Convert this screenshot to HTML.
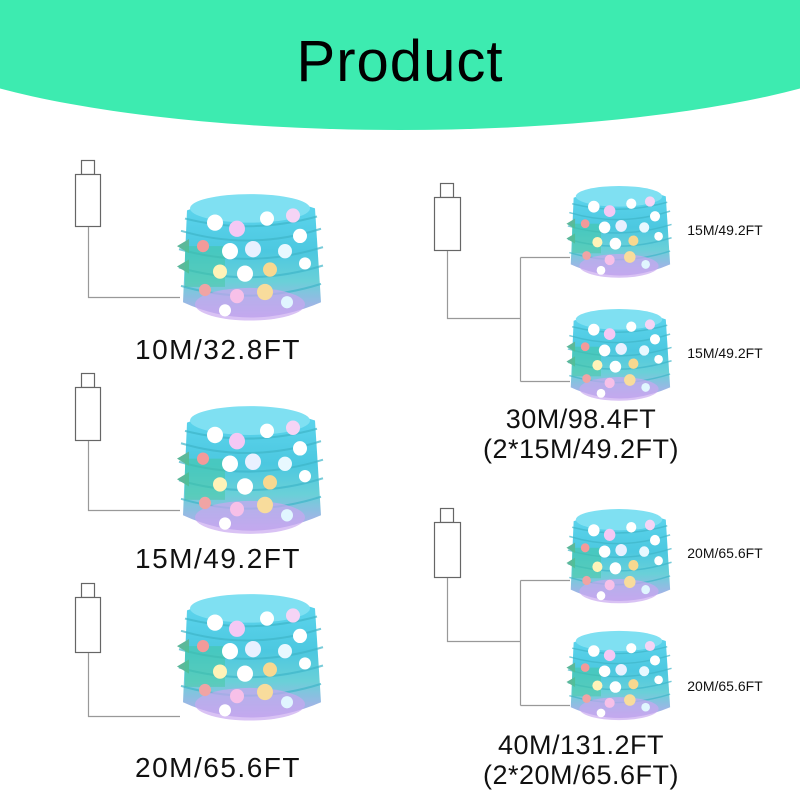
<!DOCTYPE html>
<html><head><meta charset="utf-8"><style>
html,body{margin:0;padding:0;background:#fff;width:800px;height:800px;overflow:hidden;font-family:"Liberation Sans",sans-serif}
.t{position:absolute;color:#111;white-space:nowrap;transform:translateX(-50%)}
</style></head><body>
<svg width="800" height="800" style="position:absolute;left:0;top:0">
<defs>
<linearGradient id="cg" x1="0" y1="0" x2="0" y2="1">
<stop offset="0" stop-color="#5fd6ef"/><stop offset="0.45" stop-color="#4cc8e0"/><stop offset="0.7" stop-color="#6ad0d8"/><stop offset="1" stop-color="#b8a8ec"/>
</linearGradient>
<g id="coil">
<path d="M12,20 Q75,-4 140,18 L146,110 Q75,140 8,110 Z" fill="url(#cg)"/>
<ellipse cx="75" cy="18" rx="60" ry="14" fill="#7fe0f2"/>
<g stroke="#3fb6c9" stroke-width="2" fill="none" opacity="0.7">
<path d="M6,40 Q75,60 146,38"/><path d="M4,58 Q75,78 148,56"/><path d="M4,76 Q75,96 148,74"/><path d="M6,94 Q75,114 146,92"/><path d="M10,28 Q75,44 142,26"/>
</g>
<path d="M2,55 L14,48 L14,62 Z M2,75 L14,68 L14,82 Z" fill="#5cb89a"/>
<rect x="10" y="55" width="40" height="40" fill="#42c79a" opacity="0.45"/>
<ellipse cx="75" cy="112" rx="55" ry="16" fill="#c9a8ef" opacity="0.7"/>
<g>
<circle cx="40" cy="32" r="8" fill="#fff"/><circle cx="62" cy="38" r="8" fill="#f4c8f4"/><circle cx="92" cy="28" r="7" fill="#fff"/><circle cx="118" cy="25" r="7" fill="#f5d4f5"/><circle cx="125" cy="45" r="7" fill="#fff"/>
<circle cx="28" cy="55" r="6" fill="#f39a9a"/><circle cx="55" cy="60" r="8" fill="#fff"/><circle cx="78" cy="58" r="8" fill="#e9f0ff"/><circle cx="110" cy="60" r="7" fill="#e8f8ff"/>
<circle cx="45" cy="80" r="7" fill="#fff3b8"/><circle cx="70" cy="82" r="8" fill="#fff"/><circle cx="95" cy="78" r="7" fill="#f8d890"/><circle cx="130" cy="72" r="6" fill="#fff"/>
<circle cx="30" cy="98" r="6" fill="#f0a4a4"/><circle cx="62" cy="104" r="7" fill="#f7c0e8"/><circle cx="90" cy="100" r="8" fill="#f8dc9c"/><circle cx="112" cy="110" r="6" fill="#e0f6ff"/><circle cx="50" cy="118" r="6" fill="#fff"/>
</g>
</g>
</defs>
<ellipse cx="400" cy="15" rx="520" ry="115" fill="#3debb0"/>
<g fill="#fff" stroke="#666" stroke-width="1.2">
<rect x="81.5" y="160.5" width="13" height="14"/><rect x="75.5" y="174.5" width="25" height="52"/>
<rect x="81.5" y="373.5" width="13" height="14"/><rect x="75.5" y="387.5" width="25" height="53"/>
<rect x="81.5" y="583.5" width="13" height="14"/><rect x="75.5" y="597.5" width="25" height="55"/>
<rect x="440.5" y="183.5" width="13" height="14"/><rect x="434.5" y="197.5" width="26" height="53"/>
<rect x="440.5" y="508.5" width="13" height="14"/><rect x="434.5" y="522.5" width="26" height="55"/>
</g>
<g fill="none" stroke="#999" stroke-width="1.2">
<path d="M88.5,227 V297.5 H180"/><path d="M88.5,441 V510.5 H180"/><path d="M88.5,653 V716.5 H180"/>
<path d="M447.5,251 V318.5 H520.5 M520.5,257.5 V381.5 M520.5,257.5 H570 M520.5,381.5 H570"/>
<path d="M447.5,578 V641.5 H520.5 M520.5,580.5 V705.5 M520.5,580.5 H570 M520.5,705.5 H570"/>
</g>
<use href="#coil" transform="translate(175,190) scale(1,1.02)"/>
<use href="#coil" transform="translate(175,402) scale(1,1.03)"/>
<use href="#coil" transform="translate(175,590) scale(1,1.02)"/>
<use href="#coil" transform="translate(565,183) scale(0.72,0.74)"/>
<use href="#coil" transform="translate(565,306) scale(0.72,0.74)"/>
<use href="#coil" transform="translate(565,506) scale(0.72,0.76)"/>
<use href="#coil" transform="translate(565,628) scale(0.72,0.72)"/>
</svg>
<div class="t" style="left:400px;top:28px;font-size:58px;color:#000;letter-spacing:1px">Product</div>
<div class="t" style="left:218px;top:334px;font-size:28px;letter-spacing:1.5px">10M/32.8FT</div>
<div class="t" style="left:218px;top:543px;font-size:28px;letter-spacing:1.5px">15M/49.2FT</div>
<div class="t" style="left:218px;top:752px;font-size:28px;letter-spacing:1.5px">20M/65.6FT</div>
<div class="t" style="left:581px;top:404px;font-size:27px;letter-spacing:0.5px">30M/98.4FT</div>
<div class="t" style="left:581px;top:434px;font-size:27px;letter-spacing:0.5px">(2*15M/49.2FT)</div>
<div class="t" style="left:581px;top:730px;font-size:27px;letter-spacing:0.5px">40M/131.2FT</div>
<div class="t" style="left:581px;top:760px;font-size:27px;letter-spacing:0.5px">(2*20M/65.6FT)</div>
<div class="t" style="left:725px;top:222px;font-size:14px">15M/49.2FT</div>
<div class="t" style="left:725px;top:345px;font-size:14px">15M/49.2FT</div>
<div class="t" style="left:725px;top:545px;font-size:14px">20M/65.6FT</div>
<div class="t" style="left:725px;top:678px;font-size:14px">20M/65.6FT</div>
</body></html>
